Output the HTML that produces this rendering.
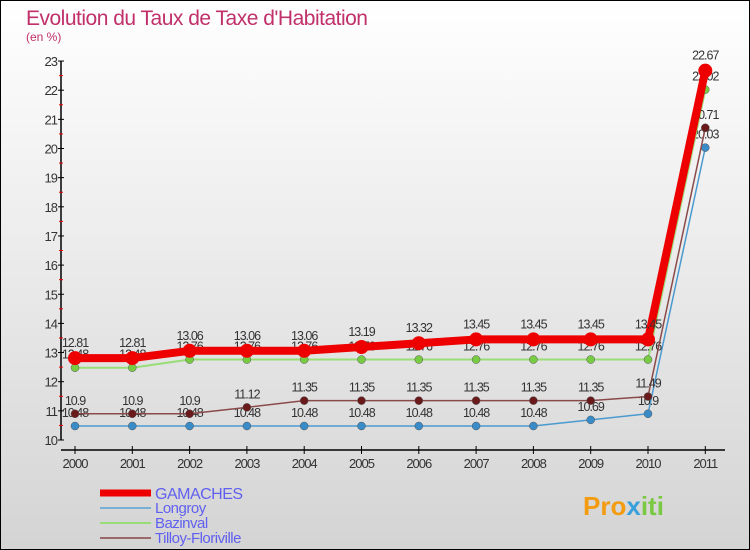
<!DOCTYPE html>
<html><head><meta charset="utf-8"><style>
body{margin:0}
svg{display:block;font-family:"Liberation Sans",sans-serif}
</style></head><body>
<svg id="c" width="750" height="550">
<defs><linearGradient id="bg" x1="0" y1="0" x2="0" y2="1"><stop offset="0" stop-color="#ffffff"/><stop offset="1" stop-color="#d4d4d4"/></linearGradient></defs>
<rect x="0.5" y="0.5" width="749" height="549" fill="url(#bg)" stroke="#000"/>
<text x="26" y="25" font-size="21" fill="#c0306a" letter-spacing="-0.5">Evolution du Taux de Taxe d'Habitation</text>
<text x="26" y="41" font-size="12" fill="#c0306a">(en %)</text>
<g id="axes"></g><g id="series"></g><g id="legend"></g>
<g><text x="583" y="515" font-size="26" font-weight="bold" fill="#f39c12">Pro<tspan fill="#3aa0dc">x</tspan><tspan fill="#7ac943">iti</tspan></text></g>
</svg>
<script>
const years=["2000","2001","2002","2003","2004","2005","2006","2007","2008","2009","2010","2011"];
const yTicks=[10,11,12,13,14,15,16,17,18,19,20,21,22,23];
const gamaches=[12.81,12.81,13.06,13.06,13.06,13.19,13.32,13.45,13.45,13.45,13.45,22.67];
const longroy=[10.48,10.48,10.48,10.48,10.48,10.48,10.48,10.48,10.48,10.69,10.9,20.03];
const bazinval=[12.48,12.48,12.76,12.76,12.76,12.76,12.76,12.76,12.76,12.76,12.76,22.02];
const tilloy=[10.9,10.9,10.9,11.12,11.35,11.35,11.35,11.35,11.35,11.35,11.49,20.71];
const names=["GAMACHES","Longroy","Bazinval","Tilloy-Floriville"];
const NS="http://www.w3.org/2000/svg";
function X(i){return 75+i*57.3;}
function Y(v){return 440-(v-10)*29.15;}
function mk(t,a,p){const e=document.createElementNS(NS,t);for(const k in a)e.setAttribute(k,a[k]);p.appendChild(e);return e;}
const ax=document.getElementById('axes');
let l=mk('line',{x1:61,y1:Y(23),x2:61,y2:Y(10),stroke:'#000','stroke-width':1.5},ax);


l=mk('line',{x1:61,y1:450,x2:725,y2:450,stroke:'#000','stroke-width':1.5},ax);


yTicks.forEach(v=>{
 mk('line',{x1:58,x2:64,y1:Y(v),y2:Y(v),stroke:'#000'},ax);
 if(v<23) mk('line',{x1:59,x2:63,y1:Y(v+0.5),y2:Y(v+0.5),stroke:'#e00'},ax);
 const t=mk('text',{x:57,y:Y(v)+5,'font-size':13,'text-anchor':'end',fill:'#333','letter-spacing':'-1'},ax);t.textContent=v;
 
 
});
years.forEach((y,i)=>{
 mk('line',{x1:X(i),x2:X(i),y1:446,y2:454,stroke:'#000'},ax);
 const t=mk('text',{x:X(i),y:468,'font-size':13,'text-anchor':'middle',fill:'#333','letter-spacing':'-1'},ax);t.textContent=y;
 
 
});
const sg=document.getElementById('series');
const defs=[[longroy,'#4a9ad0','#3a8cc8',1.5,4],[bazinval,'#99dd77','#77cc44',2,4],[tilloy,'#8a4a4a','#6a1a1a',1.5,4],[gamaches,'#ee0000','#ee0000',8,7]];
const order=[1,2,3,0];
defs.forEach((d,k)=>{
 const [vals,lc,pc,w,r]=d;
 const g=mk('g',{},sg);
 
 
 const p=mk('polyline',{points:vals.map((v,i)=>X(i)+','+Y(v)).join(' '),fill:'none',stroke:lc,'stroke-width':w,'stroke-linejoin':'round'},g);
 
 
 vals.forEach((v,i)=>{
  const c=mk('circle',{cx:X(i),cy:Y(v),r:r,fill:pc,stroke:w>5?'none':'#555','stroke-width':0.5},g);
  
  
  const t=mk('text',{x:X(i),y:Y(v)-(w>5?11:9),'font-size':12.5,'text-anchor':'middle',fill:'#333','letter-spacing':'-1'},g);t.textContent=v;
  
  
 });
});
const lg=document.getElementById('legend');
const lcol=['#ee0000','#7ab0d8','#99dd77','#9a6a6a'],lw=[7,2,2,2];
names.forEach((n,i)=>{
 const y=493+i*15;
 const g=mk('g',{},lg);
 
 
 mk('line',{x1:100,x2:151,y1:y,y2:y,stroke:lcol[i],'stroke-width':lw[i]},g);
 const t=mk('text',{x:155,y:y+(i==0?6:5),'font-size':i==0?16:15,fill:'#6060f0','letter-spacing':'-0.5'},g);t.textContent=n;
});
</script>
</body></html>
